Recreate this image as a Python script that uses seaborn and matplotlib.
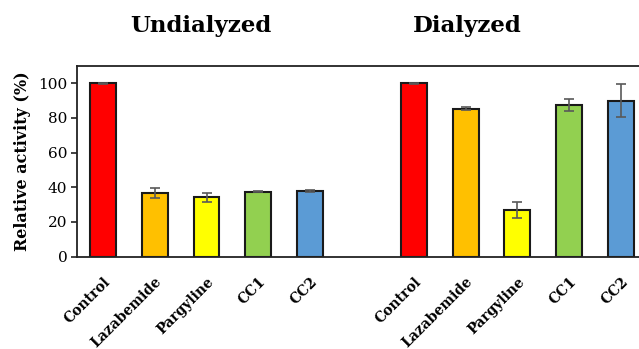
import matplotlib
matplotlib.use("Agg")
import matplotlib.pyplot as plt
import seaborn as sns
import pandas as pd

# Inhibitor panel, same order in both groups
compounds = ["Control", "Lazabemide", "Pargyline", "CC1", "CC2"]
groups = ["Undialyzed", "Dialyzed"]

# Relative activity (%) and error (±) per compound
undialyzed_mean = [100.0, 36.6, 34.1, 37.4, 37.8]
undialyzed_err = [0.3, 3.0, 2.7, 0.4, 0.4]
dialyzed_mean = [100.0, 85.4, 27.0, 87.7, 89.8]
dialyzed_err = [0.3, 0.7, 4.6, 3.5, 9.5]

colors = ["#FF0000", "#FFC000", "#FFFF00", "#92D050", "#5B9BD5"]

sns.set_theme(style="white")
plt.rcParams["font.family"] = ["DejaVu Serif"]
plt.rcParams["text.color"] = "black"
plt.rcParams["axes.labelcolor"] = "black"
plt.rcParams["xtick.color"] = "black"
plt.rcParams["ytick.color"] = "black"

rows = []
for g, means, errs in [("Undialyzed", undialyzed_mean, undialyzed_err),
                       ("Dialyzed", dialyzed_mean, dialyzed_err)]:
    for c, m, e in zip(compounds, means, errs):
        rows.append({"key": f"{g}:{c}", "group": g, "compound": c,
                     "activity": m, "err": e})
df = pd.DataFrame(rows)

# one empty slot separates the two groups
order = [f"Undialyzed:{c}" for c in compounds] + ["gap"] + \
        [f"Dialyzed:{c}" for c in compounds]

fig = plt.figure(figsize=(6.39, 3.49), dpi=100)
ax = fig.add_axes([0.1205, 0.265, 0.892, 0.546])

sns.barplot(data=df, x="key", y="activity", hue="compound", order=order,
            hue_order=compounds, palette=colors, saturation=1, dodge=False,
            width=0.5, edgecolor="#1a1a1a", linewidth=1.5, legend=False,
            errorbar=None, ax=ax)

xpos = [order.index(k) for k in df["key"]]
ax.errorbar(xpos, df["activity"], yerr=df["err"], fmt="none",
            ecolor="#595959", elinewidth=1.2, capsize=3.3, capthick=1.2,
            zorder=5)

ax.set_xlim(-0.5, 10.5)
ax.set_ylim(0, 110)
ax.set_yticks([0, 20, 40, 60, 80, 100])
ax.tick_params(axis="y", direction="out", length=4, width=1.2, color="#222222",
               labelsize=11, pad=3, left=True)
ax.tick_params(axis="x", length=0, pad=13)

labels = [k.split(":")[1] if k != "gap" else "" for k in order]
ax.set_xticks(range(len(order)))
ax.set_xticklabels(labels, rotation=45, ha="right", rotation_mode="anchor",
                   fontsize=10, fontweight="bold")
ax.set_xlabel("")
ax.set_ylabel("Relative activity (%)", fontsize=11.5, fontweight="bold",
              labelpad=5)

for side in ["left", "top", "bottom", "right"]:
    ax.spines[side].set_visible(True)
    ax.spines[side].set_color("#222222")
    ax.spines[side].set_linewidth(1.3)

# group headers above each block of bars
for g, center in [("Undialyzed", 1.89), ("Dialyzed", 7.03)]:
    ax.text(center, 1.21, g, transform=ax.get_xaxis_transform(),
            ha="center", va="center", fontsize=16.5, fontweight="bold")

fig.savefig("out.png", dpi=100)
